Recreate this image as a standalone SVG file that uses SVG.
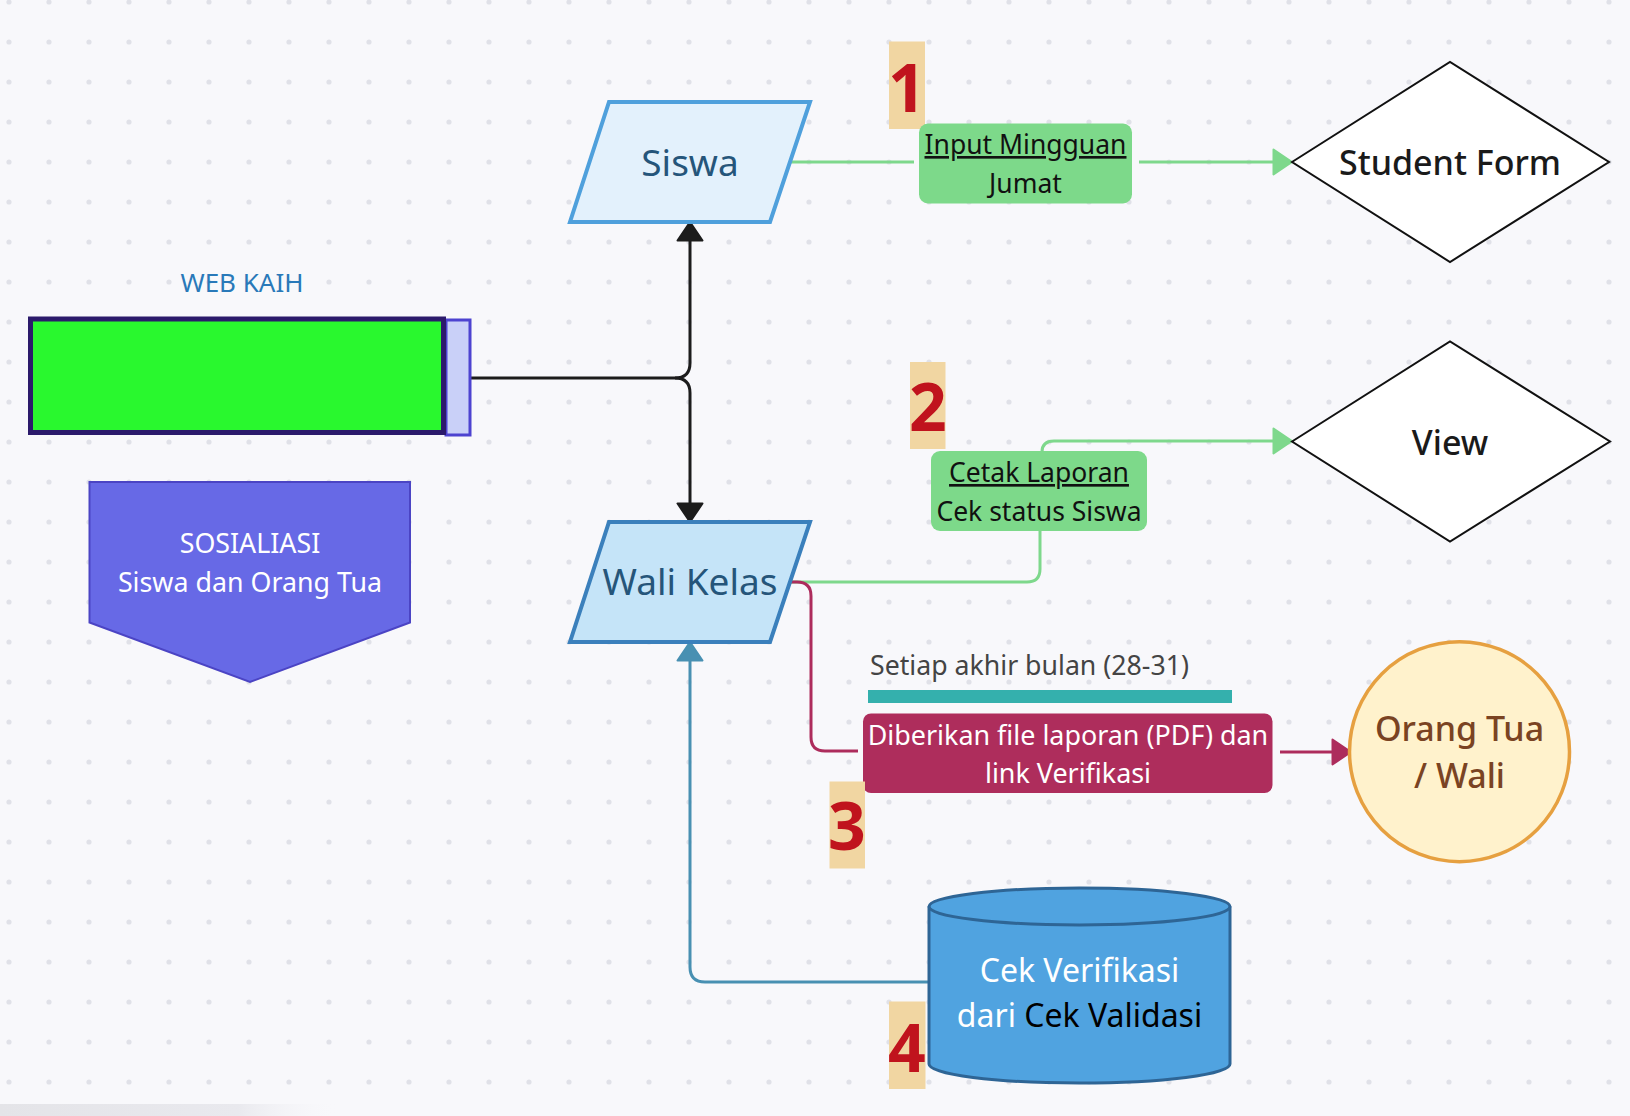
<svg xmlns="http://www.w3.org/2000/svg" width="1630" height="1116" viewBox="0 0 1630 1116">
  <defs>
    <pattern id="dots" x="9" y="2" width="40" height="40" patternUnits="userSpaceOnUse">
      <circle cx="0" cy="0" r="2.6" fill="#e0e1e8"/>
      <circle cx="40" cy="0" r="2.6" fill="#e0e1e8"/>
      <circle cx="0" cy="40" r="2.6" fill="#e0e1e8"/>
      <circle cx="40" cy="40" r="2.6" fill="#e0e1e8"/>
    </pattern>
    <linearGradient id="shade" x1="0" y1="0" x2="1" y2="0">
      <stop offset="0" stop-color="#e4e4e8"/>
      <stop offset="0.7" stop-color="#e9e9ee"/>
      <stop offset="1" stop-color="#f8f8fb" stop-opacity="0"/>
    </linearGradient>
    <marker id="ah-black" markerWidth="24" markerHeight="30" refX="6" refY="14" orient="auto" markerUnits="userSpaceOnUse">
      <path d="M1.5 1.5 L20 14 L1.5 26.5 Z" fill="#1c1c1c" stroke="#1c1c1c" stroke-width="2" stroke-linejoin="round"/>
    </marker>
    <marker id="ah-green" markerWidth="24" markerHeight="30" refX="6" refY="14" orient="auto" markerUnits="userSpaceOnUse">
      <path d="M1.5 1.5 L20 14 L1.5 26.5 Z" fill="#7ed88c" stroke="#7ed88c" stroke-width="2" stroke-linejoin="round"/>
    </marker>
    <marker id="ah-mag" markerWidth="24" markerHeight="30" refX="6" refY="14" orient="auto" markerUnits="userSpaceOnUse">
      <path d="M1.5 1.5 L20 14 L1.5 26.5 Z" fill="#ad2c5c" stroke="#ad2c5c" stroke-width="2" stroke-linejoin="round"/>
    </marker>
    <marker id="ah-teal" markerWidth="24" markerHeight="30" refX="6" refY="14" orient="auto" markerUnits="userSpaceOnUse">
      <path d="M1.5 1.5 L20 14 L1.5 26.5 Z" fill="#4890b2" stroke="#4890b2" stroke-width="2" stroke-linejoin="round"/>
    </marker>
  </defs>
  <style>
    text { font-family: "Noto Sans", "Open Sans", "DejaVu Sans", sans-serif; }
    .c { text-anchor: middle; }
    .conn { fill: none; stroke-width: 3; stroke-linecap: butt; }
    .badge { fill: #f1d6a2; }
    .num { font-size: 66px; font-weight: 700; fill: #c0131d; text-anchor: middle; }
    .gbox { fill: #7dd98a; }
    .lbl { font-size: 26.5px; fill: #111; }
    .dia { fill: #ffffff; stroke: #111; stroke-width: 2; }
    .big { font-size: 34px; fill: #1a1a1a; font-weight: 500; }
    .para { font-size: 37px; fill: #25557a; }
  </style>

  <rect width="1630" height="1116" fill="#f8f8fb"/>
  <rect width="1630" height="1116" fill="url(#dots)"/>
  <rect x="0" y="1104" width="340" height="12" fill="url(#shade)"/>

  <g id="connectors">
    <path class="conn" stroke="#1c1c1c" d="M470 378 H675 Q690 378 690 363 V236" marker-end="url(#ah-black)"/>
    <path class="conn" stroke="#1c1c1c" d="M675 378 Q690 378 690 393 V508" marker-end="url(#ah-black)"/>
    <path class="conn" stroke="#7ed88c" d="M789 162 H914"/>
    <path class="conn" stroke="#7ed88c" d="M1139 162 H1278" marker-end="url(#ah-green)"/>
    <path class="conn" stroke="#7ed88c" d="M789 582 H1027 Q1040 582 1040 569 V531"/>
    <path class="conn" stroke="#7ed88c" d="M1042 452 Q1042 441 1054 441 H1278" marker-end="url(#ah-green)"/>
    <path class="conn" stroke="#ad2c5c" d="M789 582 H797 Q811 582 811 596 V737 Q811 751 825 751 H858"/>
    <path class="conn" stroke="#ad2c5c" d="M1280 752 H1337" marker-end="url(#ah-mag)"/>
    <path class="conn" stroke="#4890b2" d="M929 982 H705 Q690 982 690 967 V656" marker-end="url(#ah-teal)"/>
  </g>

  <g id="web-kaih">
    <text class="c" x="242" y="292" font-size="26" fill="#2979b9">WEB KAIH</text>
    <rect x="446" y="320" width="24" height="115" fill="#c9d0f8" stroke="#4d43d0" stroke-width="3"/>
    <rect x="30.5" y="319" width="413" height="113.5" fill="#29f82e" stroke="#2b1a6b" stroke-width="5"/>
  </g>

  <g id="sosialisasi">
    <path d="M89.5 482 H410 V622.5 L250 682 L89.5 622.5 Z" fill="#6769e6" stroke="#4b44c4" stroke-width="2"/>
    <text class="c" x="250" y="553" font-size="26.8" fill="#ffffff">SOSIALIASI</text>
    <text class="c" x="250" y="592" font-size="26.8" fill="#ffffff">Siswa dan Orang Tua</text>
  </g>

  <g id="siswa">
    <path d="M609 102 H810 L770 222 H570 Z" fill="#e3f1fc" stroke="#4fa0dc" stroke-width="4" stroke-linejoin="miter"/>
    <text class="c para" x="690" y="176">Siswa</text>
  </g>

  <g id="wali-kelas">
    <path d="M609 522 H810 L770 642 H570 Z" fill="#c5e4f8" stroke="#3b80bc" stroke-width="4"/>
    <text class="c para" x="690" y="595">Wali Kelas</text>
  </g>

  <g id="label-1">
    <rect class="badge" x="889" y="41.5" width="36" height="87.5"/>
    <text class="num" x="907" y="112">1</text>
  </g>

  <g id="input-mingguan">
    <rect class="gbox" x="919" y="123.5" width="213" height="80" rx="9"/>
    <text class="c lbl" x="1025.5" y="154" text-decoration="underline">Input Mingguan</text>
    <text class="c lbl" x="1025.5" y="193">Jumat</text>
  </g>

  <g id="student-form">
    <path class="dia" d="M1292 162 L1450 62 L1609 162 L1450 262 Z"/>
    <text class="c big" x="1450" y="175">Student Form</text>
  </g>

  <g id="label-2">
    <rect class="badge" x="910" y="362" width="35.5" height="87"/>
    <text class="num" x="928" y="431">2</text>
  </g>

  <g id="cetak-laporan">
    <rect class="gbox" x="931" y="451" width="216" height="80" rx="9"/>
    <text class="c lbl" x="1039" y="482" text-decoration="underline">Cetak Laporan</text>
    <text class="c lbl" x="1039" y="521">Cek status Siswa</text>
  </g>

  <g id="view">
    <path class="dia" d="M1292 441.5 L1450 341.5 L1610 441.5 L1450 541.5 Z"/>
    <text class="c big" x="1450" y="455">View</text>
  </g>

  <g id="setiap-akhir-bulan">
    <text x="870" y="675" font-size="26.7" fill="#444444">Setiap akhir bulan (28-31)</text>
    <rect x="868" y="690" width="364" height="13" fill="#34b0ad"/>
  </g>

  <g id="diberikan-file">
    <rect x="863" y="713.5" width="409.5" height="79.5" rx="8" fill="#ae2d5c"/>
    <text class="c" x="1068" y="745" font-size="26.9" fill="#ffffff">Diberikan file laporan (PDF) dan</text>
    <text class="c" x="1068" y="783" font-size="26.9" fill="#ffffff">link Verifikasi</text>
  </g>

  <g id="label-3">
    <rect class="badge" x="829.5" y="781.5" width="35.5" height="87"/>
    <text class="num" x="847" y="850">3</text>
  </g>

  <g id="orang-tua">
    <circle cx="1459.5" cy="751.7" r="110" fill="#fff2cc" stroke="#e6a040" stroke-width="3.5"/>
    <text class="c" x="1459.5" y="740.5" font-size="34" fill="#7a4322" font-weight="500">Orang Tua</text>
    <text class="c" x="1459.5" y="788" font-size="34" fill="#7a4322" font-weight="500">/ Wali</text>
  </g>

  <g id="cek-verifikasi">
    <path d="M929 906.5 A150.5 18.5 0 0 1 1230 906.5 V1064 A150.5 19 0 0 1 929 1064 Z" fill="#50a3e0" stroke="#2e6595" stroke-width="3"/>
    <path d="M929 906.5 A150.5 18.5 0 0 0 1230 906.5" fill="none" stroke="#2e6595" stroke-width="3"/>
    <text class="c" x="1079.5" y="981.5" font-size="32" fill="#ffffff">Cek Verifikasi</text>
    <text class="c" x="1079.5" y="1026.5" font-size="32" fill="#ffffff">dari <tspan fill="#000000">Cek Validasi</tspan></text>
  </g>

  <g id="label-4">
    <rect class="badge" x="889" y="1001.5" width="36.5" height="87.5"/>
    <text class="num" x="907" y="1072">4</text>
  </g>
</svg>
